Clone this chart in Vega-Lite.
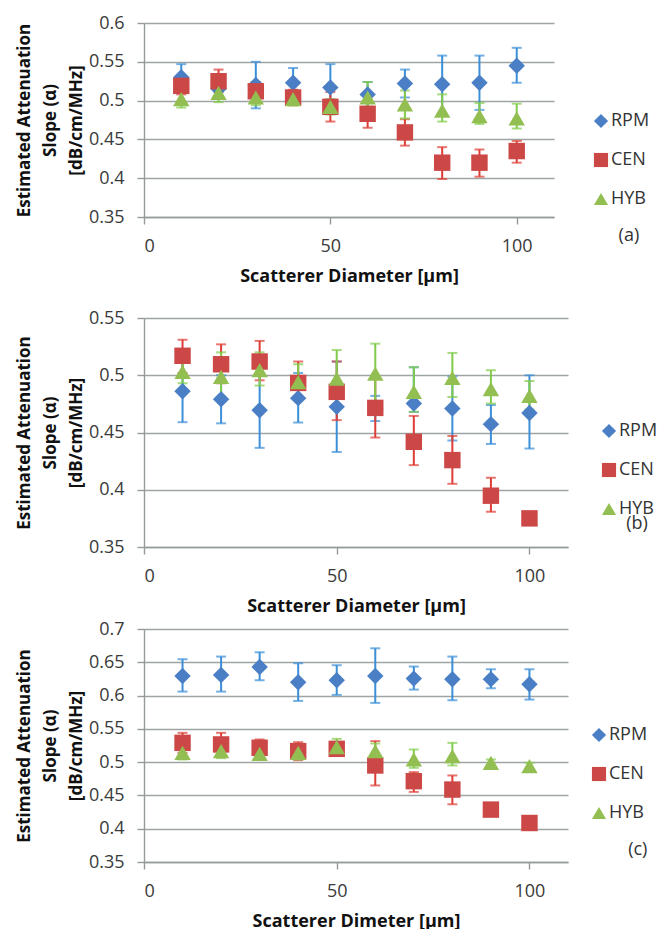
{
  "$schema": "https://vega.github.io/schema/vega-lite/v6.json",
  "padding": {"left": 15, "top": 14, "right": 0, "bottom": 0},
  "background": "white",
  "datasets": {
    "a": [
      {"x": 10, "series": "RPM", "y": 0.530, "lo": 0.515, "hi": 0.547},
      {"x": 20, "series": "RPM", "y": 0.515, "lo": 0.503, "hi": 0.527},
      {"x": 30, "series": "RPM", "y": 0.520, "lo": 0.490, "hi": 0.550},
      {"x": 40, "series": "RPM", "y": 0.523, "lo": 0.504, "hi": 0.542},
      {"x": 50, "series": "RPM", "y": 0.517, "lo": 0.487, "hi": 0.547},
      {"x": 60, "series": "RPM", "y": 0.508, "lo": 0.492, "hi": 0.524},
      {"x": 70, "series": "RPM", "y": 0.522, "lo": 0.504, "hi": 0.540},
      {"x": 80, "series": "RPM", "y": 0.521, "lo": 0.484, "hi": 0.558},
      {"x": 90, "series": "RPM", "y": 0.523, "lo": 0.488, "hi": 0.558},
      {"x": 100, "series": "RPM", "y": 0.545, "lo": 0.523, "hi": 0.568},
      {"x": 10, "series": "CEN", "y": 0.519, "lo": 0.508, "hi": 0.530},
      {"x": 20, "series": "CEN", "y": 0.525, "lo": 0.511, "hi": 0.540},
      {"x": 30, "series": "CEN", "y": 0.512, "lo": 0.500, "hi": 0.524},
      {"x": 40, "series": "CEN", "y": 0.504, "lo": 0.494, "hi": 0.514},
      {"x": 50, "series": "CEN", "y": 0.492, "lo": 0.473, "hi": 0.511},
      {"x": 60, "series": "CEN", "y": 0.483, "lo": 0.465, "hi": 0.501},
      {"x": 70, "series": "CEN", "y": 0.459, "lo": 0.442, "hi": 0.476},
      {"x": 80, "series": "CEN", "y": 0.420, "lo": 0.399, "hi": 0.440},
      {"x": 90, "series": "CEN", "y": 0.420, "lo": 0.402, "hi": 0.437},
      {"x": 100, "series": "CEN", "y": 0.435, "lo": 0.420, "hi": 0.448},
      {"x": 10, "series": "HYB", "y": 0.502, "lo": 0.491, "hi": 0.513},
      {"x": 20, "series": "HYB", "y": 0.510, "lo": 0.498, "hi": 0.522},
      {"x": 30, "series": "HYB", "y": 0.504, "lo": 0.494, "hi": 0.514},
      {"x": 40, "series": "HYB", "y": 0.502, "lo": 0.494, "hi": 0.510},
      {"x": 50, "series": "HYB", "y": 0.492, "lo": 0.482, "hi": 0.502},
      {"x": 60, "series": "HYB", "y": 0.504, "lo": 0.488, "hi": 0.524},
      {"x": 70, "series": "HYB", "y": 0.495, "lo": 0.477, "hi": 0.513},
      {"x": 80, "series": "HYB", "y": 0.487, "lo": 0.473, "hi": 0.508},
      {"x": 90, "series": "HYB", "y": 0.480, "lo": 0.470, "hi": 0.497},
      {"x": 100, "series": "HYB", "y": 0.477, "lo": 0.464, "hi": 0.496}
    ],
    "b": [
      {"x": 10, "series": "RPM", "y": 0.486, "lo": 0.459, "hi": 0.514},
      {"x": 20, "series": "RPM", "y": 0.479, "lo": 0.458, "hi": 0.500},
      {"x": 30, "series": "RPM", "y": 0.4695, "lo": 0.4366, "hi": 0.502},
      {"x": 40, "series": "RPM", "y": 0.480, "lo": 0.4587, "hi": 0.502},
      {"x": 50, "series": "RPM", "y": 0.4724, "lo": 0.433, "hi": 0.512},
      {"x": 60, "series": "RPM", "y": 0.471, "lo": 0.460, "hi": 0.482},
      {"x": 70, "series": "RPM", "y": 0.4753, "lo": 0.468, "hi": 0.507},
      {"x": 80, "series": "RPM", "y": 0.471, "lo": 0.443, "hi": 0.499},
      {"x": 90, "series": "RPM", "y": 0.4573, "lo": 0.440, "hi": 0.474},
      {"x": 100, "series": "RPM", "y": 0.467, "lo": 0.436, "hi": 0.500},
      {"x": 10, "series": "CEN", "y": 0.517, "lo": 0.502, "hi": 0.531},
      {"x": 20, "series": "CEN", "y": 0.5096, "lo": 0.493, "hi": 0.527},
      {"x": 30, "series": "CEN", "y": 0.512, "lo": 0.4956, "hi": 0.530},
      {"x": 40, "series": "CEN", "y": 0.4933, "lo": 0.480, "hi": 0.512},
      {"x": 50, "series": "CEN", "y": 0.4855, "lo": 0.4608, "hi": 0.512},
      {"x": 60, "series": "CEN", "y": 0.4715, "lo": 0.4456, "hi": 0.497},
      {"x": 70, "series": "CEN", "y": 0.4419, "lo": 0.4215, "hi": 0.4645},
      {"x": 80, "series": "CEN", "y": 0.4259, "lo": 0.4052, "hi": 0.447},
      {"x": 90, "series": "CEN", "y": 0.3948, "lo": 0.3808, "hi": 0.4105},
      {"x": 100, "series": "CEN", "y": 0.375, "lo": 0.372, "hi": 0.379},
      {"x": 10, "series": "HYB", "y": 0.503, "lo": 0.493, "hi": 0.513},
      {"x": 20, "series": "HYB", "y": 0.4985, "lo": 0.478, "hi": 0.520},
      {"x": 30, "series": "HYB", "y": 0.5044, "lo": 0.491, "hi": 0.520},
      {"x": 40, "series": "HYB", "y": 0.494, "lo": 0.480, "hi": 0.5096},
      {"x": 50, "series": "HYB", "y": 0.497, "lo": 0.472, "hi": 0.522},
      {"x": 60, "series": "HYB", "y": 0.5015, "lo": 0.475, "hi": 0.5276},
      {"x": 70, "series": "HYB", "y": 0.4855, "lo": 0.468, "hi": 0.507},
      {"x": 80, "series": "HYB", "y": 0.4977, "lo": 0.481, "hi": 0.5195},
      {"x": 90, "series": "HYB", "y": 0.4878, "lo": 0.4753, "hi": 0.5044},
      {"x": 100, "series": "HYB", "y": 0.482, "lo": 0.470, "hi": 0.495}
    ],
    "c": [
      {"x": 10, "series": "RPM", "y": 0.6295, "lo": 0.606, "hi": 0.6546},
      {"x": 20, "series": "RPM", "y": 0.631, "lo": 0.606, "hi": 0.6586},
      {"x": 30, "series": "RPM", "y": 0.643, "lo": 0.623, "hi": 0.665},
      {"x": 40, "series": "RPM", "y": 0.620, "lo": 0.592, "hi": 0.6486},
      {"x": 50, "series": "RPM", "y": 0.623, "lo": 0.601, "hi": 0.6456},
      {"x": 60, "series": "RPM", "y": 0.6295, "lo": 0.589, "hi": 0.671},
      {"x": 70, "series": "RPM", "y": 0.6255, "lo": 0.609, "hi": 0.6436},
      {"x": 80, "series": "RPM", "y": 0.6245, "lo": 0.593, "hi": 0.6586},
      {"x": 90, "series": "RPM", "y": 0.6245, "lo": 0.611, "hi": 0.6395},
      {"x": 100, "series": "RPM", "y": 0.617, "lo": 0.594, "hi": 0.6395},
      {"x": 10, "series": "CEN", "y": 0.529, "lo": 0.514, "hi": 0.544},
      {"x": 20, "series": "CEN", "y": 0.5266, "lo": 0.509, "hi": 0.544},
      {"x": 30, "series": "CEN", "y": 0.5216, "lo": 0.509, "hi": 0.534},
      {"x": 40, "series": "CEN", "y": 0.5166, "lo": 0.503, "hi": 0.530},
      {"x": 50, "series": "CEN", "y": 0.520, "lo": 0.515, "hi": 0.525},
      {"x": 60, "series": "CEN", "y": 0.495, "lo": 0.465, "hi": 0.5316},
      {"x": 70, "series": "CEN", "y": 0.4714, "lo": 0.4553, "hi": 0.485},
      {"x": 80, "series": "CEN", "y": 0.4588, "lo": 0.4367, "hi": 0.480},
      {"x": 90, "series": "CEN", "y": 0.4287, "lo": 0.426, "hi": 0.431},
      {"x": 100, "series": "CEN", "y": 0.4086, "lo": 0.406, "hi": 0.411},
      {"x": 10, "series": "HYB", "y": 0.514, "lo": 0.504, "hi": 0.524},
      {"x": 20, "series": "HYB", "y": 0.5166, "lo": 0.506, "hi": 0.527},
      {"x": 30, "series": "HYB", "y": 0.5125, "lo": 0.504, "hi": 0.521},
      {"x": 40, "series": "HYB", "y": 0.514, "lo": 0.504, "hi": 0.524},
      {"x": 50, "series": "HYB", "y": 0.5226, "lo": 0.512, "hi": 0.535},
      {"x": 60, "series": "HYB", "y": 0.5166, "lo": 0.505, "hi": 0.528},
      {"x": 70, "series": "HYB", "y": 0.504, "lo": 0.4915, "hi": 0.519},
      {"x": 80, "series": "HYB", "y": 0.509, "lo": 0.495, "hi": 0.529},
      {"x": 90, "series": "HYB", "y": 0.499, "lo": 0.494, "hi": 0.504},
      {"x": 100, "series": "HYB", "y": 0.494, "lo": 0.489, "hi": 0.499}
    ]
  },
  "spacing": 5,
  "resolve": {
    "scale": {"color": "independent", "shape": "independent"},
    "legend": {"color": "independent", "shape": "independent"}
  },
  "vconcat": [
    {
      "width": 410, "height": 194,
      "data": {"name": "a"},
      "encoding": {
        "x": {"field": "x", "type": "quantitative", "scale": {"domain": [0, 110]}, "axis": {"values": [0, 50, 100], "title": ["Scatterer Diameter [µm]", " "], "titleLineHeight": 19}},
        "y": {"field": "lo", "type": "quantitative", "scale": {"domain": [0.35, 0.6]}, "axis": {"values": [0.35, 0.4, 0.45, 0.5, 0.55, 0.6], "title": ["Estimated Attenuation", "Slope (α)", "[dB/cm/MHz]"]}}
      },
      "layer": [
        {"transform": [{"filter": "datum.series === 'RPM'"}], "mark": {"type": "errorbar", "color": "#3b8fd9", "thickness": 2, "ticks": {"size": 10, "thickness": 2}}, "encoding": {"y2": {"field": "hi"}}},
        {"transform": [{"filter": "datum.series === 'CEN'"}], "mark": {"type": "errorbar", "color": "#de3d36", "thickness": 2, "ticks": {"size": 10, "thickness": 2}}, "encoding": {"y2": {"field": "hi"}}},
        {"transform": [{"filter": "datum.series === 'HYB'"}], "mark": {"type": "errorbar", "color": "#80cc4a", "thickness": 2, "ticks": {"size": 10, "thickness": 2}}, "encoding": {"y2": {"field": "hi"}}},
        {
          "mark": {"type": "point", "filled": true, "size": 270, "opacity": 1},
          "encoding": {
            "y": {"field": "y", "type": "quantitative"},
            "color": {"field": "series", "type": "nominal", "title": null, "scale": {"domain": ["RPM", "CEN", "HYB"], "range": ["#4a7fc6", "#cc4846", "#93bf52"]}, "legend": {"orient": "none", "legendX": 448, "legendY": 89}},
            "shape": {"field": "series", "type": "nominal", "title": null, "scale": {"domain": ["RPM", "CEN", "HYB"], "range": ["diamond", "square", "triangle-up"]}, "legend": {"orient": "none", "legendX": 448, "legendY": 89}}
          }
        },
        {
          "transform": [{"filter": "datum.x === 100 && datum.series === 'RPM'"}],
          "mark": {"type": "text", "fontSize": 18, "fontWeight": "normal", "color": "#333333", "font": "Open Sans", "baseline": "middle", "text": "(a)"},
          "encoding": {"x": {"datum": 130.1}, "y": {"datum": 0.326}}
        }
      ]
    },
    {
      "width": 424, "height": 229,
      "data": {"name": "b"},
      "encoding": {
        "x": {"field": "x", "type": "quantitative", "scale": {"domain": [0, 110]}, "axis": {"values": [0, 50, 100], "title": "Scatterer Diameter [µm]"}},
        "y": {"field": "lo", "type": "quantitative", "scale": {"domain": [0.35, 0.55]}, "axis": {"values": [0.35, 0.4, 0.45, 0.5, 0.55], "title": ["Estimated Attenuation", "Slope (α)", "[dB/cm/MHz]"]}}
      },
      "layer": [
        {"transform": [{"filter": "datum.series === 'RPM'"}], "mark": {"type": "errorbar", "color": "#3b8fd9", "thickness": 2, "ticks": {"size": 10, "thickness": 2}}, "encoding": {"y2": {"field": "hi"}}},
        {"transform": [{"filter": "datum.series === 'CEN'"}], "mark": {"type": "errorbar", "color": "#de3d36", "thickness": 2, "ticks": {"size": 10, "thickness": 2}}, "encoding": {"y2": {"field": "hi"}}},
        {"transform": [{"filter": "datum.series === 'HYB'"}], "mark": {"type": "errorbar", "color": "#80cc4a", "thickness": 2, "ticks": {"size": 10, "thickness": 2}}, "encoding": {"y2": {"field": "hi"}}},
        {
          "mark": {"type": "point", "filled": true, "size": 270, "opacity": 1},
          "encoding": {
            "y": {"field": "y", "type": "quantitative"},
            "color": {"field": "series", "type": "nominal", "title": null, "scale": {"domain": ["RPM", "CEN", "HYB"], "range": ["#4a7fc6", "#cc4846", "#93bf52"]}, "legend": {"orient": "none", "legendX": 456, "legendY": 104}},
            "shape": {"field": "series", "type": "nominal", "title": null, "scale": {"domain": ["RPM", "CEN", "HYB"], "range": ["diamond", "square", "triangle-up"]}, "legend": {"orient": "none", "legendX": 456, "legendY": 104}}
          }
        },
        {
          "transform": [{"filter": "datum.x === 100 && datum.series === 'RPM'"}],
          "mark": {"type": "text", "fontSize": 18, "fontWeight": "normal", "color": "#333333", "font": "Open Sans", "baseline": "middle", "text": "(b)"},
          "encoding": {"x": {"datum": 127.9}, "y": {"datum": 0.3698}}
        }
      ]
    },
    {
      "width": 424, "height": 233,
      "data": {"name": "c"},
      "encoding": {
        "x": {"field": "x", "type": "quantitative", "scale": {"domain": [0, 110]}, "axis": {"values": [0, 50, 100], "title": "Scatterer Dimeter [µm]"}},
        "y": {"field": "lo", "type": "quantitative", "scale": {"domain": [0.35, 0.7]}, "axis": {"values": [0.35, 0.4, 0.45, 0.5, 0.55, 0.6, 0.65, 0.7], "title": ["Estimated Attenuation", "Slope (α)", "[dB/cm/MHz]"]}}
      },
      "layer": [
        {"transform": [{"filter": "datum.series === 'RPM'"}], "mark": {"type": "errorbar", "color": "#3b8fd9", "thickness": 2, "ticks": {"size": 10, "thickness": 2}}, "encoding": {"y2": {"field": "hi"}}},
        {"transform": [{"filter": "datum.series === 'CEN'"}], "mark": {"type": "errorbar", "color": "#de3d36", "thickness": 2, "ticks": {"size": 10, "thickness": 2}}, "encoding": {"y2": {"field": "hi"}}},
        {"transform": [{"filter": "datum.series === 'HYB'"}], "mark": {"type": "errorbar", "color": "#80cc4a", "thickness": 2, "ticks": {"size": 10, "thickness": 2}}, "encoding": {"y2": {"field": "hi"}}},
        {
          "mark": {"type": "point", "filled": true, "size": 270, "opacity": 1},
          "encoding": {
            "y": {"field": "y", "type": "quantitative"},
            "color": {"field": "series", "type": "nominal", "title": null, "scale": {"domain": ["RPM", "CEN", "HYB"], "range": ["#4a7fc6", "#cc4846", "#93bf52"]}, "legend": {"orient": "none", "legendX": 446, "legendY": 97}},
            "shape": {"field": "series", "type": "nominal", "title": null, "scale": {"domain": ["RPM", "CEN", "HYB"], "range": ["diamond", "square", "triangle-up"]}, "legend": {"orient": "none", "legendX": 446, "legendY": 97}}
          }
        },
        {
          "transform": [{"filter": "datum.x === 100 && datum.series === 'RPM'"}],
          "mark": {"type": "text", "fontSize": 18, "fontWeight": "normal", "color": "#333333", "font": "Open Sans", "baseline": "middle", "text": "(c)"},
          "encoding": {"x": {"datum": 128.1}, "y": {"datum": 0.3676}}
        }
      ]
    }
  ],
  "config": {
    "view": {"stroke": null},
    "font": "Open Sans",
    "scale": {"continuousPadding": 0},
    "axis": {
      "labelFont": "Open Sans", "labelFontSize": 18, "labelColor": "#3a3a3a", "labelOverlap": false,
      "titleFont": "Open Sans", "titleFontWeight": "bold", "titleColor": "#111111",
      "domainColor": "#959a9a", "tickColor": "#959a9a", "gridColor": "#9ea3a3", "gridWidth": 1.4, "domainWidth": 1.4, "tickWidth": 1.4,
      "tickSize": 7, "labelPadding": 13
    },
    "axisX": {"grid": false, "titleFontSize": 18, "titlePadding": 12, "format": "d"},
    "axisY": {"grid": true, "titleFontSize": 17, "titleLineHeight": 26, "titlePadding": 3, "format": ".2~f"},
    "legend": {"labelFont": "Open Sans", "labelFontSize": 18, "labelColor": "#333333", "symbolSize": 200, "rowPadding": 21, "padding": 0, "labelOffset": 1, "symbolStrokeWidth": 0}
  }
}
